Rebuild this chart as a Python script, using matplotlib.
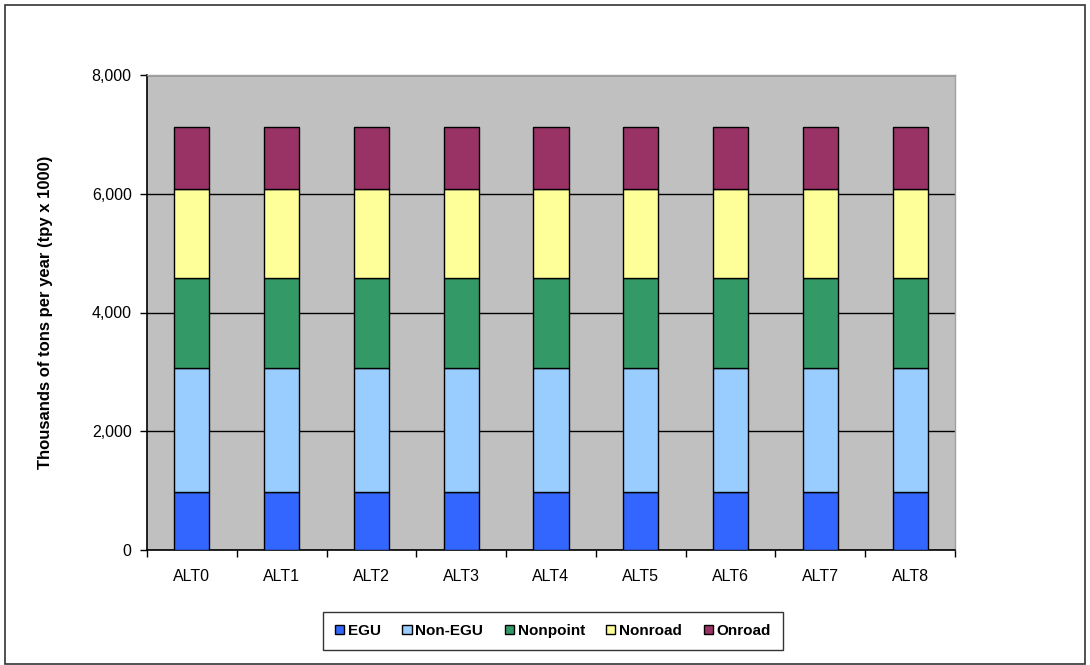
import numpy as np
import matplotlib.pyplot as plt
from matplotlib.patches import Rectangle

# emissions by sector for each alternative (thousand tpy)
alternatives = ['ALT0', 'ALT1', 'ALT2', 'ALT3', 'ALT4', 'ALT5', 'ALT6', 'ALT7', 'ALT8']
sectors = ['EGU', 'Non-EGU', 'Nonpoint', 'Nonroad', 'Onroad']
egu = [980, 980, 980, 980, 980, 980, 980, 980, 980]
non_egu = [2090, 2090, 2090, 2090, 2090, 2090, 2090, 2090, 2090]
nonpoint = [1515, 1515, 1515, 1515, 1515, 1515, 1515, 1515, 1515]
nonroad = [1495, 1495, 1495, 1495, 1495, 1495, 1495, 1495, 1495]
onroad = [1050, 1050, 1050, 1050, 1050, 1050, 1050, 1050, 1050]
colors = ['#3366FF', '#99CCFF', '#339966', '#FFFF99', '#993366']
y_ticks = [0, 2000, 4000, 6000, 8000]

plt.rcParams['font.family'] = ['Liberation Sans', 'DejaVu Sans']

fig = plt.figure(figsize=(10.9, 6.65), dpi=100)
W, H = 1090, 665
ax = fig.add_axes([147 / W, 1 - 550 / H, (955 - 147) / W, (550 - 75) / H])
ax.set_facecolor('#C0C0C0')

x = np.arange(len(alternatives))
bottom = np.zeros(len(alternatives))
for name, vals, c in zip(sectors, [egu, non_egu, nonpoint, nonroad, onroad], colors):
    ax.bar(x, vals, 0.39, bottom=bottom, color=c, edgecolor='black', linewidth=1, label=name, zorder=3)
    bottom += np.array(vals)

ax.set_xlim(-0.5, len(alternatives) - 0.5)
ax.set_ylim(0, 8000)
ax.set_yticks(y_ticks)
ax.set_yticklabels([f'{v:,}' for v in y_ticks], fontsize=11.5)
ax.yaxis.grid(True, color='black', linewidth=1, zorder=1)
ax.set_axisbelow(True)

ax.set_xticks(x)
ax.set_xticklabels(alternatives, fontsize=11.5)
ax.tick_params(axis='x', which='major', length=0, pad=14)
ax.set_xticks(np.arange(-0.5, len(alternatives), 1), minor=True)
ax.tick_params(axis='x', which='minor', length=5, direction='out', width=1)
ax.tick_params(axis='y', length=5, direction='out', width=1, pad=6)

for s in ['top', 'right']:
    ax.spines[s].set_color('#A0A0A0')
    ax.spines[s].set_linewidth(1)
for s in ['left', 'bottom']:
    ax.spines[s].set_color('black')
    ax.spines[s].set_linewidth(1.2)

ax.set_ylabel('Thousands of tons per year (tpy x 1000)', fontsize=12, fontweight='bold', labelpad=28)

leg = fig.legend(loc='center', bbox_to_anchor=(553 / W, 1 - 631 / H), ncol=5, frameon=True,
                 fancybox=False, edgecolor='black', handlelength=0.6, handleheight=0.6,
                 handletextpad=0.25, columnspacing=1.4, borderpad=0.8,
                 prop={'weight': 'bold', 'size': 11})
leg.get_frame().set_linewidth(1)

# outer border
fig.patches.append(Rectangle((5 / W, 1 / H), 1080 / W, 659 / H, transform=fig.transFigure,
                             fill=False, edgecolor='#333333', linewidth=1.2))

fig.savefig('out.png', dpi=100)
